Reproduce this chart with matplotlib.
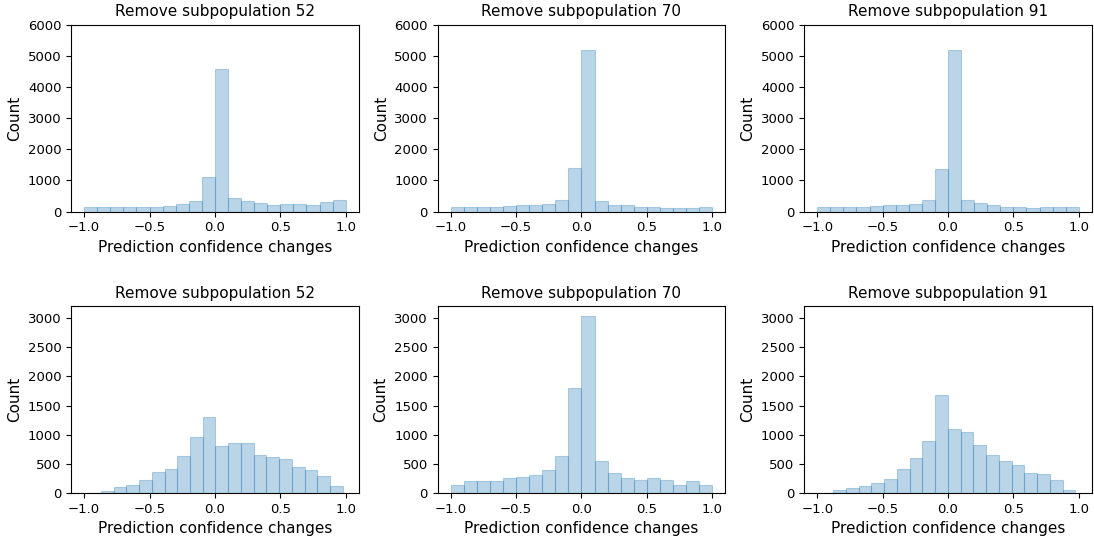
import numpy as np
import matplotlib
matplotlib.use('Agg')
import matplotlib.pyplot as plt

# Histogram counts (20 bins per panel)

subpops = [52, 70, 91]

# top row: bins of width 0.1 from -1 to 1
top_edges = np.linspace(-1.0, 1.0, 21)
top_counts = [
    [139, 139, 139, 139, 139, 139, 182, 246, 343, 1115,
     4587, 440, 343, 279, 214, 246, 246, 214, 311, 375],
    [139, 139, 139, 139, 182, 214, 214, 246, 375, 1404,
     5198, 343, 214, 214, 139, 139, 107, 107, 107, 139],
    [139, 139, 139, 139, 182, 214, 214, 246, 375, 1372,
     5198, 375, 279, 214, 139, 139, 107, 139, 139, 139],
]

# bottom row: bins span min..max of each sample
bottom_ranges = [(-0.970, 0.978), (-1.0, 1.0), (-0.975, 0.975)]
bottom_counts = [
    [5, 35, 103, 138, 224, 361, 413, 636, 963, 1307,
     808, 860, 860, 654, 619, 585, 447, 396, 292, 120],
    [138, 206, 206, 206, 258, 275, 310, 396, 636, 1806,
     3028, 550, 344, 258, 224, 258, 224, 138, 206, 138],
    [5, 52, 86, 120, 172, 241, 413, 602, 894, 1686,
     1101, 1049, 826, 654, 550, 482, 344, 327, 224, 52],
]

face = (31/255, 119/255, 180/255, 0.3)
edge = (31/255, 119/255, 180/255, 0.3)

fig, axes = plt.subplots(2, 3, figsize=(10.94, 5.39), dpi=100)
plt.subplots_adjust(left=0.065, right=0.998, top=0.954, bottom=0.085,
                    wspace=0.274, hspace=0.508)


def draw_hist(ax, edges, counts, title):
    ax.hist(edges[:-1], bins=edges, weights=counts, facecolor=face,
            edgecolor=edge, linewidth=0.8)
    ax.set_title(title, fontsize=11)
    ax.set_xlabel('Prediction confidence changes', fontsize=11)
    ax.set_ylabel('Count', fontsize=11)
    ax.set_xticks([-1.0, -0.5, 0.0, 0.5, 1.0])
    ax.set_xlim(-1.1, 1.1)
    ax.tick_params(labelsize=9.5)


for i, sp in enumerate(subpops):
    ax = axes[0, i]
    draw_hist(ax, top_edges, top_counts[i], f'Remove subpopulation {sp}')
    ax.set_ylim(0, 6000)

for i, sp in enumerate(subpops):
    ax = axes[1, i]
    lo, hi = bottom_ranges[i]
    edges = np.linspace(lo, hi, 21)
    draw_hist(ax, edges, bottom_counts[i], f'Remove subpopulation {sp}')
    ax.set_ylim(0, 3200)
    ax.set_yticks([0, 500, 1000, 1500, 2000, 2500, 3000])

fig.savefig('out.png', dpi=100)
